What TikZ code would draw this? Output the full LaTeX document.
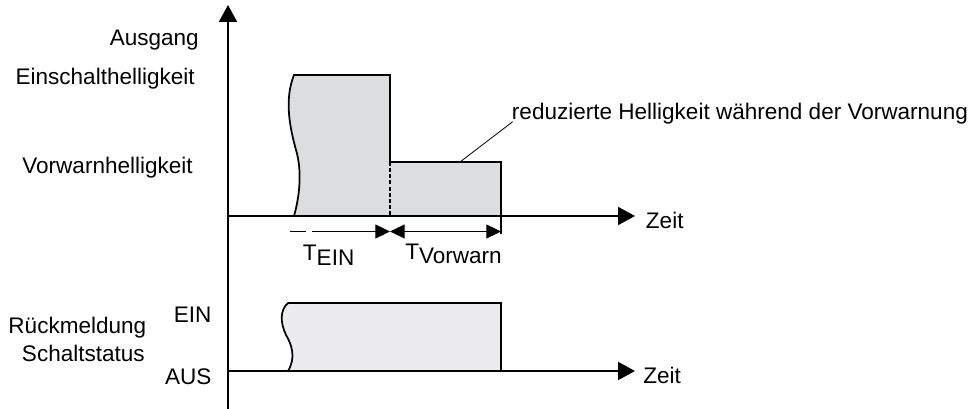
\documentclass[tikz,border=0pt]{standalone}
\usepackage{fontspec}
\setmainfont{Liberation Sans}
\usetikzlibrary{arrows.meta, positioning}
\definecolor{hellgrau}{RGB}{220,221,223}
\definecolor{blassgrau}{RGB}{236,236,238}

\begin{document}
\begin{tikzpicture}[x=0.75pt, y=-0.75pt, font=\fontsize{16.9}{20}\selectfont,
  axis/.style={line width=1.5pt, -{Triangle[length=12.75pt, width=13.5pt]}},
  outline/.style={line width=1.3pt},
  dimone/.style={line width=0.8pt, -{Triangle[length=11pt, width=10.5pt]}},
  dimtwo/.style={line width=0.8pt, {Triangle[length=11pt, width=10.5pt]}-{Triangle[length=11pt, width=10.5pt]}},
  lbl/.style={inner sep=0pt}]
  \useasboundingbox (0,0) rectangle (974,409);
  % Axes
  \coordinate (o) at (228,409);
  \coordinate (top) at (228,5);
  \coordinate (z1a) at (228,216);
  \coordinate (z1b) at (635,216);
  \coordinate (z2a) at (228,371);
  \coordinate (z2b) at (635,371);
  \draw[axis] (o) -- (top);
  % Output brightness
  \filldraw[hellgrau, draw=black, outline] (294,75) -- (390,75) -- (390,162) -- (501,162) -- (501,216) -- (294,216)
    .. controls (300,195) and (302,170) .. (296,150) .. controls (290,128) and (284,100) .. (294,75) -- cycle;
  \draw[line width=1.5pt, dash pattern=on 3pt off 1.6pt] (390,162) -- (390,216);
  \draw[axis] (z1a) -- (z1b);
  % Times
  \coordinate (d0) at (290,231.5);
  \coordinate (d1) at (390,231.5);
  \coordinate (d2) at (501,231.5);
  \draw[dimone, dash pattern=on 12pt off 4.5pt on 200pt] (d0) -- (d1);
  \draw[dimtwo] (d1) -- (d2);
  \draw[outline] (501,216) -- (501,234);
  \node[lbl, anchor=base west] (tein) at (302.7,261) {T\raisebox{-3.2pt}{EIN}};
  \node[lbl, anchor=base west] (tvor) at (405,259.3) {T\raisebox{-3.3pt}{Vorwarn}};
  % Feedback
  \filldraw[blassgrau, draw=black, outline] (288,303) -- (501,303) -- (501,371) -- (288,371)
    .. controls (296,358) and (292,345) .. (286,335) .. controls (280,322) and (280,310) .. (288,303) -- cycle;
  \draw[axis] (z2a) -- (z2b);
  % Labels
  \node[lbl, anchor=base east] (ausgang) at (199,46) {Ausgang};
  \node[lbl, anchor=base east] (einh) at (195,85) {Einschalthelligkeit};
  \node[lbl, anchor=base east] (vorh) at (193,173.3) {Vorwarnhelligkeit};
  \node[lbl, anchor=base west] (zeit1) at (645.7,229) {Zeit};
  \node[lbl, anchor=base west] (zeit2) at (643,383.3) {Zeit};
  \node[lbl, anchor=base west] (reduz) at (511.7,119.3) {reduzierte Helligkeit während der Vorwarnung};
  \coordinate (lead) at (460,162);
  \draw[line width=0.6pt] (lead) -- ([xshift=0.75pt, yshift=-1.8pt]reduz.base west);
  \node[lbl, anchor=base east] (rueck) at (146.5,333.3) {Rückmeldung};
  \node[lbl, anchor=base east] (schalt) at (145,361.7) {Schaltstatus};
  \node[lbl, anchor=base east] (ein) at (211.7,322.3) {EIN};
  \node[lbl, anchor=base east] (aus) at (211.7,384.3) {AUS};
\end{tikzpicture}
\end{document}
